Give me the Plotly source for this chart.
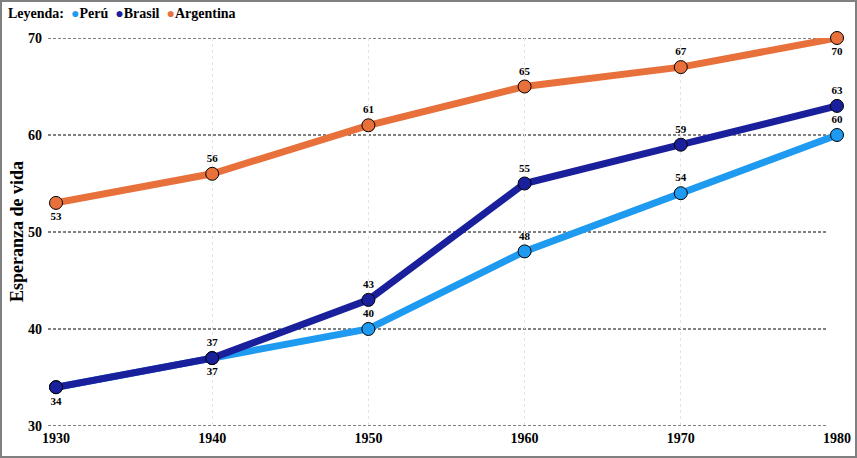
import plotly.graph_objects as go

years = [1930, 1940, 1950, 1960, 1970, 1980]
peru = [34, 37, 40, 48, 54, 60]
brasil = [34, 37, 43, 55, 59, 63]
argentina = [53, 56, 61, 65, 67, 70]
y_ticks = [30, 40, 50, 60, 70]

peru_pos = ["bottom center", "bottom center", "top center", "top center", "top center", "top center"]
brasil_pos = ["bottom center", "top center", "top center", "top center", "top center", "top center"]
arg_pos = ["bottom center", "top center", "top center", "top center", "top center", "bottom center"]

names = ["Perú", "Brasil", "Argentina"]
colors = ["#1E9BF0", "#1A1F9C", "#E8703A"]
series = [peru, brasil, argentina]
positions = [peru_pos, brasil_pos, arg_pos]

FONT = "Liberation Serif"

fig = go.Figure()
for name, col, vals, pos in zip(names, colors, series, positions):
    texts = [str(v) for v in vals]
    if name == "Brasil":
        texts[0] = ""
    fig.add_trace(go.Scatter(
        x=years, y=vals, mode="lines+markers+text", name=name,
        line=dict(color=col, width=7),
        marker=dict(size=13, color=col, line=dict(color="black", width=1)),
        text=texts, textposition=pos,
        textfont=dict(family=FONT, size=11, color="black", weight="bold"),
        cliponaxis=False, showlegend=False,
    ))

W, H = 857, 458
ml, mr, mt, mb = 56, 20, 38, 32
pw, ph = W - ml - mr, H - mt - mb

legend_text = "<b>Leyenda:</b>  " + "  ".join(
    f"<span style='color:{c};font-size:14px'>●</span><b>{n}</b>" for n, c in zip(names, colors)
)

shapes = [dict(
    type="line", xref="paper", yref="y",
    x0=-8 / pw, x1=1 - 9 / pw, y0=v, y1=v,
    line=dict(color="black", width=1, dash="3px,2px"), layer="below",
) for v in y_ticks]
shapes.append(dict(
    type="rect", xref="paper", yref="paper",
    x0=-(ml - 1) / pw, x1=1 + (mr - 1) / pw,
    y0=-(mb - 1) / ph, y1=1 + (mt - 1) / ph,
    line=dict(color="#808080", width=2), layer="above",
))

fig.update_layout(
    width=W, height=H,
    margin=dict(l=ml, r=mr, t=mt, b=mb, autoexpand=False),
    paper_bgcolor="white", plot_bgcolor="white",
    font=dict(family=FONT, color="black"),
    showlegend=False,
    xaxis=dict(
        range=[1930, 1980], tickvals=years, ticktext=[str(y) for y in years],
        showgrid=True, gridcolor="#e4e4e4", griddash="dot", gridwidth=1,
        zeroline=False, showline=False, automargin=False, ticklabelstandoff=2,
        tickfont=dict(family=FONT, size=14, weight="bold"),
    ),
    yaxis=dict(
        range=[30, 70], tickvals=y_ticks,
        showgrid=False,
        zeroline=False, showline=False, ticks="", ticklabelstandoff=13, automargin=False,
        tickfont=dict(family=FONT, size=14, weight="bold"),
    ),
    annotations=[
        dict(
            text=legend_text, xref="paper", yref="paper",
            x=-(ml - 6) / pw, y=1 + (mt - 4) / ph, xanchor="left", yanchor="top",
            showarrow=False, font=dict(family=FONT, size=14, color="black"),
        ),
        dict(
            text="<b>Esperanza de vida</b>", xref="paper", yref="paper",
            x=-(ml - 17) / pw, y=0.5, xanchor="center", yanchor="middle", textangle=-90,
            showarrow=False, font=dict(family=FONT, size=18, color="black"),
        ),
    ],
    shapes=shapes,
)

fig.write_html("out.html")
